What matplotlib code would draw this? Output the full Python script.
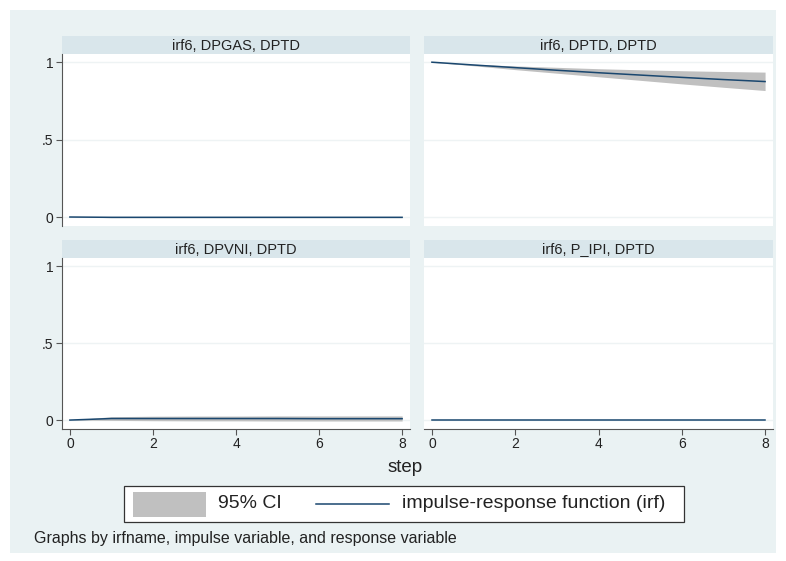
import numpy as np
import matplotlib
matplotlib.use("Agg")
import matplotlib.pyplot as plt
from matplotlib.patches import Rectangle
from matplotlib.lines import Line2D

plt.rcParams['font.family'] = ['Liberation Sans', 'DejaVu Sans']

steps = [0, 1, 2, 3, 4, 5, 6, 7, 8]

titles = ["irf6, DPGAS, DPTD", "irf6, DPTD, DPTD",
          "irf6, DPVNI, DPTD", "irf6, P_IPI, DPTD"]

irf_gas = [0, -0.002, -0.002, -0.002, -0.002, -0.002, -0.002, -0.002, -0.002]
lo_gas = [0, -0.004, -0.004, -0.004, -0.004, -0.004, -0.004, -0.004, -0.004]
hi_gas = [0, 0.000, 0.000, 0.000, 0.000, 0.000, 0.000, 0.000, 0.000]

irf_ptd = [1, 0.982, 0.965, 0.948, 0.932, 0.917, 0.902, 0.888, 0.875]
lo_ptd = [1, 0.977, 0.952, 0.929, 0.906, 0.883, 0.860, 0.838, 0.817]
hi_ptd = [1, 0.987, 0.976, 0.967, 0.958, 0.951, 0.945, 0.940, 0.936]

irf_vni = [0, 0.010, 0.010, 0.010, 0.010, 0.010, 0.009, 0.009, 0.009]
lo_vni = [0, -0.002, -0.004, -0.005, -0.005, -0.006, -0.006, -0.006, -0.006]
hi_vni = [0, 0.022, 0.025, 0.026, 0.026, 0.027, 0.027, 0.027, 0.027]

irf_ipi = [0, 0, 0, 0, 0, 0, 0, 0, 0]
lo_ipi = [0, 0, 0, 0, 0, 0, 0, 0, 0]
hi_ipi = [0, 0, 0, 0, 0, 0, 0, 0, 0]

series = [(irf_gas, lo_gas, hi_gas), (irf_ptd, lo_ptd, hi_ptd),
          (irf_vni, lo_vni, hi_vni), (irf_ipi, lo_ipi, hi_ipi)]

W, H = 786, 561
bg = "#EAF2F3"
strip_col = "#D9E6EB"
navy = "#1A476F"
ci_col = "#C0C0C0"
axis_col = "#555555"
txt = "#222222"

fig = plt.figure(figsize=(W / 100, H / 100), dpi=100)
fig.patch.set_facecolor("white")
fig.patches.append(Rectangle((10 / W, 1 - 553 / H), 766 / W, 543 / H,
                             transform=fig.transFigure, facecolor=bg,
                             edgecolor="none", zorder=-10))

def fx(px):
    return px / W

def fy(py):
    return 1 - py / H

# panel boxes in pixels: (left, right) and (strip_top, plot_top, plot_bottom)
cols = [(62, 410), (424, 773)]
rows = [(36, 54, 226), (240, 258, 429)]

for i in range(4):
    r, c = divmod(i, 2)
    x0, x1 = cols[c]
    st, pt, pb = rows[r]
    # strip
    fig.patches.append(Rectangle((fx(x0), fy(pt)), fx(x1 - x0), (pt - st) / H,
                                 transform=fig.transFigure, facecolor=strip_col,
                                 edgecolor="none", zorder=-5))
    fig.text(fx((x0 + x1) / 2), fy((st + pt) / 2 + 0.5), titles[i], ha="center",
             va="center", fontsize=10.5, color=txt)

    ax = fig.add_axes([fx(x0), fy(pb), fx(x1 - x0), (pb - pt) / H])
    ax.set_facecolor("white")
    irf, lo, hi = series[i]
    ax.fill_between(steps, lo, hi, color=ci_col, linewidth=0, zorder=2)
    ax.plot(steps, irf, color=navy, linewidth=1.1, zorder=3)
    ax.set_xlim(-0.19, 8.19)
    ax.set_ylim(-0.058, 1.053)
    for yv in [0, 0.5, 1]:
        ax.axhline(yv, color="#EEF3F4", linewidth=1, zorder=1)
    for s in ax.spines.values():
        s.set_visible(False)
    ax.set_yticks([0, 0.5, 1], ["0", ".5", "1"])
    ax.set_xticks([0, 2, 4, 6, 8], ["0", "2", "4", "6", "8"])
    ax.tick_params(colors=axis_col, labelcolor=txt, labelsize=10,
                   length=4, width=0.8, pad=2)
    if c == 0:
        ax.spines["left"].set_visible(True)
        ax.spines["left"].set_color(axis_col)
    else:
        ax.tick_params(axis="y", left=False, labelleft=False)
    if r == 1:
        ax.spines["bottom"].set_visible(True)
        ax.spines["bottom"].set_color(axis_col)
    else:
        ax.tick_params(axis="x", bottom=False, labelbottom=False)

fig.text(fx(405), fy(467), "step", ha="center", va="center", fontsize=13.5,
         color=txt)

# legend
fig.patches.append(Rectangle((fx(124), fy(522)), fx(560), 36 / H,
                             transform=fig.transFigure, facecolor="white",
                             edgecolor="#333333", linewidth=0.9, zorder=5))
fig.patches.append(Rectangle((fx(133), fy(517)), fx(73), 25 / H,
                             transform=fig.transFigure, facecolor=ci_col,
                             edgecolor="none", zorder=6))
fig.text(fx(218), fy(504), "95% CI", ha="left", va="center", fontsize=14,
         color=txt, zorder=6)
fig.lines.append(Line2D([fx(316), fx(389)], [fy(504), fy(504)],
                        transform=fig.transFigure, color=navy, linewidth=1.1,
                        zorder=6))
fig.text(fx(402), fy(504), "impulse-response function (irf)", ha="left",
         va="center", fontsize=14, color=txt, zorder=6)

fig.text(fx(34), fy(538), "Graphs by irfname, impulse variable, and response variable",
         ha="left", va="center", fontsize=11.5, color=txt)

fig.savefig("out.png", dpi=100, facecolor=fig.get_facecolor())
